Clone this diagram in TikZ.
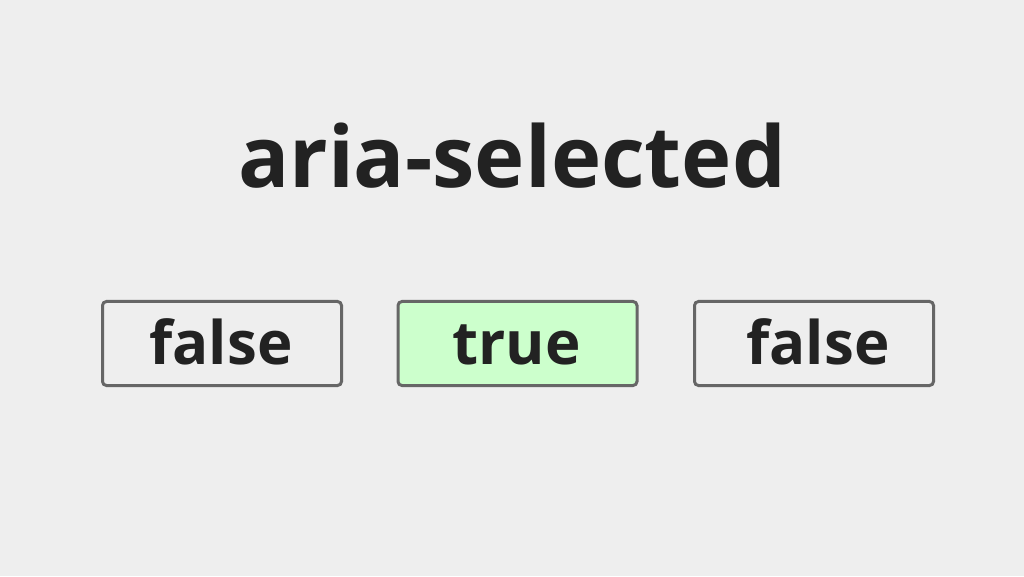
\documentclass[tikz,border=0pt]{standalone}
\usepackage{fontspec}
\setmainfont{Open Sans}
\definecolor{bg}{HTML}{EEEEEE}
\definecolor{ink}{HTML}{222222}
\definecolor{edge}{HTML}{666666}
\definecolor{sel}{HTML}{CCFFCC}
\begin{document}
\begin{tikzpicture}[x=1pt,y=1pt,
  valbox/.style={draw=edge,line width=3pt,rounded corners=4pt,minimum width=239pt,minimum height=84pt,inner sep=0pt,fill=bg},
  valtext/.style={font=\fontsize{60}{62}\selectfont\bfseries,text=ink,anchor=base}]
\fill[bg] (0,0) rectangle (1024,576);
\useasboundingbox (0,0) rectangle (1024,576);
\node[font=\fontsize{85}{87}\selectfont\bfseries,text=ink,anchor=base] (title) at (512,388) {aria-selected};
\node[valbox] (b1) at (222,232.5) {};
\node[valbox,fill=sel] (b2) at (517.5,232.5) {};
\node[valbox] (b3) at (814,232.5) {};
\node[valtext] (t1) at (221,212) {false};
\node[valtext] (t2) at (516.5,212) {true};
\node[valtext] (t3) at (818,212) {false};
\end{tikzpicture}
\end{document}
